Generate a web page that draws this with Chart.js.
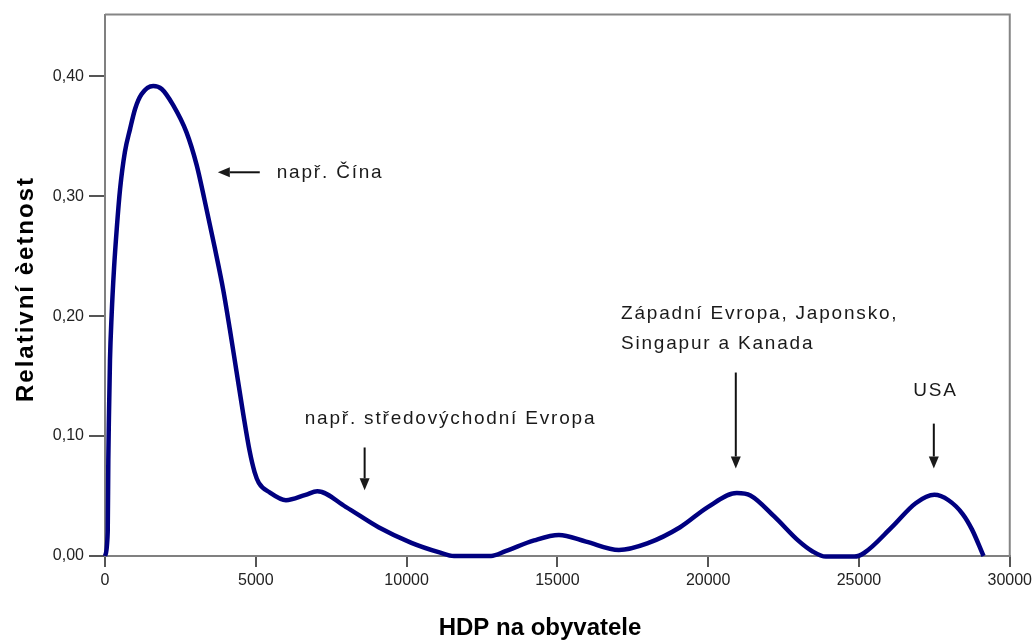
<!DOCTYPE html>
<html lang="cs">
<head>
<meta charset="utf-8">
<title>HDP na obyvatele</title>
<script src="https://cdn.jsdelivr.net/npm/chart.js@4.4.0/dist/chart.umd.min.js"></script>
<style>
  html, body { margin: 0; padding: 0; background: #fff; }
  #wrap { width: 1036px; height: 640px; }
</style>
</head>
<body>
<div id="wrap"><canvas id="hdpChart" width="1036" height="640"></canvas></div>
<script>
// ===== Data =====
const hdpValues = [0, 90, 110, 130, 165, 220, 300, 390, 500, 660,
    830, 1000, 1210, 1600, 1880, 2260, 2700, 3040, 3300, 3640,
    3920, 4140, 4360, 4580, 4800, 4960, 5100, 5460, 6000, 6650, 7040,
    7980, 9070, 10160, 11090, 11570, 12800, 13280, 14230, 15050, 15950,
    17040, 17980, 19070, 20000, 20950, 21400, 22190, 22980, 23450, 23900,
    24850, 25170, 26090, 26880, 27500, 27970, 28440, 28750, 29130];
const cetnostValues = [0, 0.02, 0.08, 0.115, 0.163, 0.201, 0.240, 0.273, 0.306, 0.337,
    0.356, 0.373, 0.385, 0.392, 0.3895, 0.376, 0.3535, 0.326, 0.297, 0.257,
    0.222, 0.189, 0.154, 0.119, 0.087, 0.070, 0.061, 0.053, 0.0465, 0.051, 0.054,
    0.041, 0.024, 0.011, 0.003, 0, 0, 0.004, 0.013, 0.0175, 0.012,
    0.005, 0.0105, 0.024, 0.041, 0.0525, 0.0505, 0.033, 0.013, 0.004, -0.0005,
    -0.0005, 0.0025, 0.024, 0.044, 0.051, 0.0465, 0.035, 0.022, 0];

const xTicks = [0, 5000, 10000, 15000, 20000, 25000, 30000];
const yTicks = [0, 0.1, 0.2, 0.3, 0.4];

const xTitle = 'HDP na obyvatele';
const yTitle = 'Relativní èetnost';

// popisky: text, kotva textu a šipka (v jednotkách os)
const noteTexts = [['např. Čína'], ['např. středovýchodní Evropa'], ['Západní Evropa, Japonsko,', 'Singapur a Kanada'], ['USA']];
const noteTextX = [5695, 6623, 17110, 27537];
const noteTextY = [0.320, 0.1145, 0.2017, 0.1378];
const noteAlign = ['left', 'left', 'left', 'center'];
const arrowFrom = [[5132, 0.320], [8609, 0.0905], [20916, 0.153], [27482, 0.1104]];
const arrowTo = [[3741, 0.320], [8609, 0.0548], [20916, 0.073], [27482, 0.073]];

const FONT = '"Liberation Sans", Arial, Helvetica, sans-serif';

// ===== Rámeček, popisky, šipky a názvy os =====
function drawArrow(ctx, x1, y1, x2, y2) {
    const ang = Math.atan2(y2 - y1, x2 - x1);
    const head = 12, half = 5;
    const bx = x2 - Math.cos(ang) * head, by = y2 - Math.sin(ang) * head;
    ctx.beginPath();
    ctx.moveTo(x1, y1);
    ctx.lineTo(bx, by);
    ctx.stroke();
    ctx.beginPath();
    ctx.moveTo(x2, y2);
    ctx.lineTo(bx + Math.sin(ang) * half, by - Math.cos(ang) * half);
    ctx.lineTo(bx - Math.sin(ang) * half, by + Math.cos(ang) * half);
    ctx.closePath();
    ctx.fill();
}

const extrasPlugin = {
    id: 'extras',
    afterDraw(chart) {
        const { ctx, chartArea: a, scales: { x, y } } = chart;
        ctx.save();

        // horní a pravý okraj
        ctx.strokeStyle = '#858585';
        ctx.lineWidth = 2;
        ctx.beginPath();
        ctx.moveTo(a.left, a.top);
        ctx.lineTo(a.right, a.top);
        ctx.lineTo(a.right, a.bottom);
        ctx.stroke();

        // popisky
        ctx.fillStyle = '#1a1a1a';
        ctx.strokeStyle = '#111';
        ctx.font = '19px ' + FONT;
        ctx.letterSpacing = '1.8px';
        ctx.textBaseline = 'middle';
        noteTexts.forEach((lines, i) => {
            ctx.textAlign = noteAlign[i];
            const px = x.getPixelForValue(noteTextX[i]);
            const py = y.getPixelForValue(noteTextY[i]);
            lines.forEach((t, j) => ctx.fillText(t, px, py + j * 30));
            ctx.lineWidth = 2;
            drawArrow(ctx,
                x.getPixelForValue(arrowFrom[i][0]), y.getPixelForValue(arrowFrom[i][1]),
                x.getPixelForValue(arrowTo[i][0]), y.getPixelForValue(arrowTo[i][1]));
        });

        // názvy os
        ctx.fillStyle = '#000';
        ctx.font = 'bold 24px ' + FONT;
        ctx.letterSpacing = '0px';
        ctx.textAlign = 'center';
        ctx.textBaseline = 'alphabetic';
        ctx.fillText(xTitle, 540, 635);

        ctx.letterSpacing = '2px';
        ctx.translate(33, 289);
        ctx.rotate(-Math.PI / 2);
        ctx.fillText(yTitle, 0, 0);
        ctx.restore();
    }
};

// ===== Graf =====
const fmtCz = v => v.toFixed(2).replace('.', ',');

new Chart(document.getElementById('hdpChart'), {
    type: 'line',
    data: {
        datasets: [{
            data: hdpValues.map((v, i) => ({ x: v, y: cetnostValues[i] })),
            borderColor: '#000080',
            borderWidth: 4.5,
            pointRadius: 0,
            fill: false,
            cubicInterpolationMode: 'monotone',
            clip: 8
        }]
    },
    options: {
        responsive: false,
        animation: false,
        devicePixelRatio: 1,
        layout: { padding: { top: 10, right: 24, left: 0, bottom: 0 } },
        plugins: {
            legend: { display: false },
            tooltip: { enabled: false }
        },
        scales: {
            x: {
                type: 'linear',
                min: 0,
                max: 30000,
                afterFit: s => { s.height = 84; },
                afterBuildTicks: s => { s.ticks = xTicks.map(v => ({ value: v })); },
                border: { display: true, color: '#808080', width: 2 },
                grid: { display: true, drawOnChartArea: false, drawTicks: true, tickLength: 11, color: '#555', lineWidth: 2 },
                ticks: {
                    color: '#222',
                    font: { family: FONT, size: 16 },
                    padding: 4,
                    maxRotation: 0,
                    autoSkip: false,
                    callback: v => String(v)
                }
            },
            y: {
                type: 'linear',
                min: 0,
                max: 0.4515,
                afterFit: s => { s.width = 105; },
                afterBuildTicks: s => { s.ticks = yTicks.map(v => ({ value: v })); },
                border: { display: true, color: '#808080', width: 2 },
                grid: { display: true, drawOnChartArea: false, drawTicks: true, tickLength: 16, color: '#555', lineWidth: 2 },
                ticks: {
                    color: '#222',
                    font: { family: FONT, size: 16 },
                    padding: 5,
                    autoSkip: false,
                    callback: v => fmtCz(v)
                }
            }
        }
    },
    plugins: [extrasPlugin]
});
</script>
</body>
</html>
